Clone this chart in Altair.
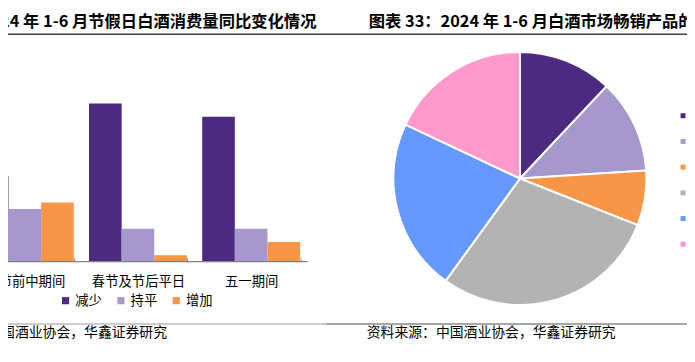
import altair as alt
import pandas as pd

FONT = "Noto Sans CJK SC"

# ---- bar chart data (share of respondents, %) ----
categories = ["春节前中期间", "春节及节后平日", "五一期间"]
series = ["减少", "持平", "增加"]
decrease = [43.3, 80.0, 73.3]
flat = [26.7, 16.7, 16.7]
increase = [30.0, 3.3, 10.0]
bar_colors = ["#4B2A80", "#A698CC", "#F79646"]

# ---- pie chart data (%) ----
pie_labels = ["1000元以上", "800-1000元", "500-800元", "300-500元", "100-300元", "100元以下"]
pie_values = [12, 12, 7, 29, 22, 18]
pie_colors = ["#4B2A80", "#A698CC", "#F79646", "#B3B3B3", "#6699FF", "#FF99CC"]

# ---- texts ----
title_left = ["24 年 1-6 月节假日白酒消费量同比变化情况"]
title_right = ["图表 33：2024 年 1-6 月白酒市场畅销产品的价"]
source_left = ["国酒业协会，华鑫证券研究"]
source_right = ["资料来源：中国酒业协会，华鑫证券研究"]

rows = []
for i, c in enumerate(categories):
    for s, vals in zip(series, [decrease, flat, increase]):
        rows.append({"cat": c, "series": s, "value": vals[i]})
bar_df = pd.DataFrame(rows)

pie_df = pd.DataFrame({"label": pie_labels, "value": pie_values,
                       "idx": list(range(len(pie_labels)))})

W, H = 687, 340

bars = alt.Chart(bar_df).mark_bar().encode(
    x=alt.X("cat:N", sort=categories,
            scale=alt.Scale(domain=categories, range=[-40.25, 303.25],
                            paddingInner=0.135, paddingOuter=0.0675),
            axis=alt.Axis(title=None, labelAngle=0, domain=False,
                          tickBand="extent", tickSize=4, tickColor="#8c8c8c",
                          tickWidth=1, offset=250.7 - H,
                          labelFont=FONT, labelFontSize=13.5, labelColor="#000",
                          labelPadding=13.5)),
    xOffset=alt.XOffset("series:N", sort=series,
                        scale=alt.Scale(domain=series, paddingInner=0, paddingOuter=0)),
    y=alt.Y("value:Q", scale=alt.Scale(domain=[0, 100], range=[254.7, 54.7]), axis=None),
    color=alt.Color("series:N", sort=series,
                    scale=alt.Scale(domain=series, range=bar_colors),
                    legend=alt.Legend(orient="none", legendX=51.5, legendY=287,
                                      direction="horizontal", title=None,
                                      symbolType="square", symbolSize=52,
                                      symbolStrokeWidth=0, labelFont=FONT,
                                      labelFontSize=13.5, labelColor="#000",
                                      labelOffset=3, columnPadding=12, padding=0)),
)

axis_line = alt.Chart(pd.DataFrame({"a": [0]})).mark_rule(color="#808080", strokeWidth=1.2).encode(
    x=alt.value(-40.25), x2=alt.value(303.25), y=alt.value(254.7)
)

pie = alt.Chart(pie_df).mark_arc(outerRadius=128, stroke="white", strokeWidth=2).encode(
    theta=alt.Theta("value:Q", stack=True),
    order=alt.Order("idx:Q"),
    color=alt.Color("label:N", sort=pie_labels,
                    scale=alt.Scale(domain=pie_labels, range=pie_colors),
                    legend=alt.Legend(orient="none", legendX=676, legendY=100,
                                      direction="vertical", title=None,
                                      symbolType="square", symbolSize=25,
                                      symbolStrokeWidth=0, labelFont=FONT,
                                      labelFontSize=14, labelColor="#000",
                                      labelOffset=3.5, rowPadding=12, padding=0)),
    x=alt.value(518), y=alt.value(170.5),
)


def text_layer(lines, x, y, size, weight="normal"):
    return alt.Chart(pd.DataFrame({"t": lines})).mark_text(
        align="left", baseline="middle", font=FONT, fontSize=size,
        fontWeight=weight, color="#000"
    ).encode(text="t:N", x=alt.value(x), y=alt.value(y))


t1 = text_layer(title_left, -8, 12, 16.5, "bold")
t2 = text_layer(title_right, 365, 12, 16.5, "bold")
s1 = text_layer(source_left, -7, 327, 14)
s2 = text_layer(source_right, 363, 327, 14)

top_line = alt.Chart(pd.DataFrame({"a": [0]})).mark_rule(color="#404040", strokeWidth=1.5).encode(
    x=alt.value(-8), x2=alt.value(W), y=alt.value(24.5)
)
bot_left = alt.Chart(pd.DataFrame({"a": [0]})).mark_rule(color="#999999", strokeWidth=1.2).encode(
    x=alt.value(-8), x2=alt.value(322), y=alt.value(317.7)
)
bot_right = alt.Chart(pd.DataFrame({"a": [0]})).mark_rule(color="#505050", strokeWidth=1.2).encode(
    x=alt.value(322), x2=alt.value(W), y=alt.value(317.7)
)

chart = alt.layer(
    bars, axis_line, pie, t1, t2, s1, s2, top_line, bot_left, bot_right
).resolve_scale(color="independent").properties(
    width=W, height=H, padding=0,
    autosize=alt.AutoSizeParams(type="none"),
).configure_view(stroke=None)

chart.save("out.html", embed_options={"renderer": "svg", "actions": False})
